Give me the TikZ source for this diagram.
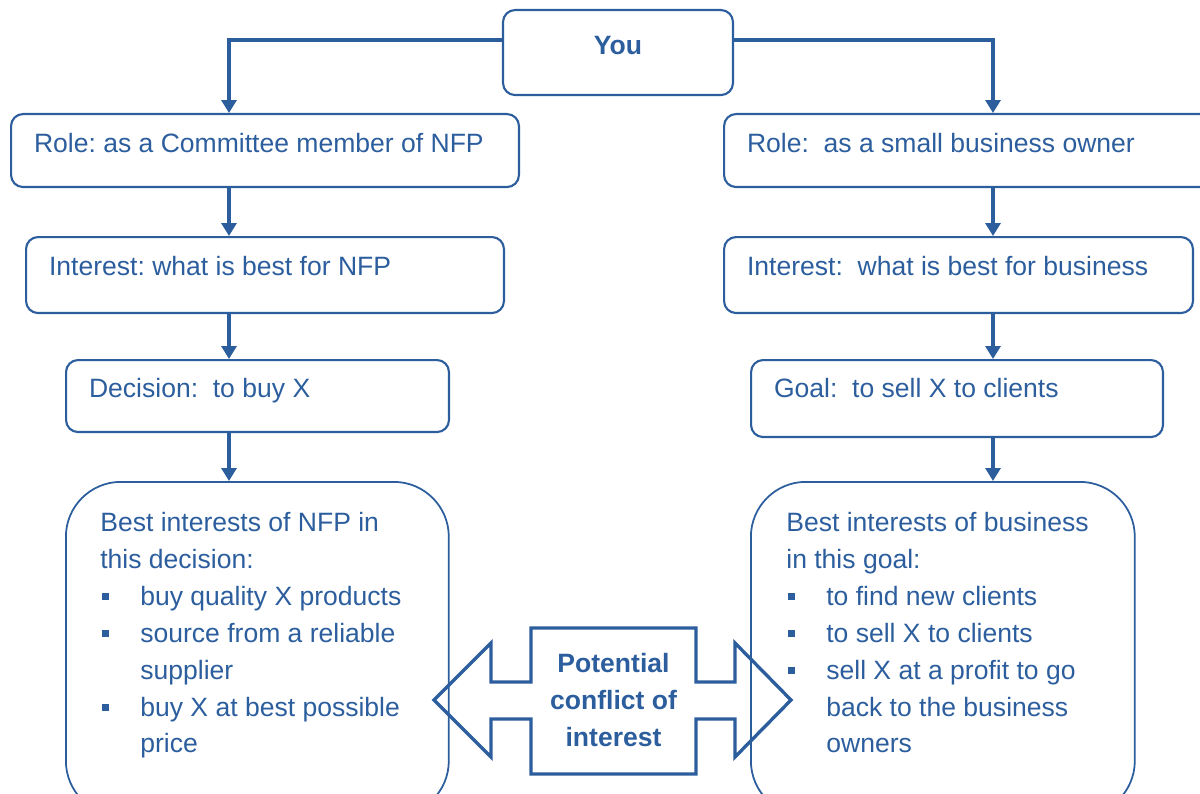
\documentclass[tikz,border=0pt]{standalone}
\usepackage{fontspec}
\setmainfont{Liberation Sans}
\usetikzlibrary{arrows.meta}
\definecolor{nfpblue}{RGB}{44,94,158}
\newcommand{\sqbullet}{\makebox[0.8cm][l]{\hspace{0.04cm}\raisebox{0.11cm}{\rule{0.14cm}{0.14cm}}}}
\newcommand{\boxfont}{\fontsize{15.1}{21}\selectfont\frenchspacing}

\begin{document}
\begin{tikzpicture}[x=0.02cm,y=-0.02cm,>={Triangle[width=0.3cm,length=0.26cm]},
  box/.style={draw=nfpblue, line width=1.2pt, rounded corners=0.24cm, anchor=north west,
    inner xsep=0.46cm, inner ysep=0pt, align=left, text=nfpblue, font=\boxfont,
    execute at begin node={\spaceskip=0pt\xspaceskip=0pt}},
  bigbox/.style={draw=nfpblue, line width=1pt, rounded corners=1.1cm, anchor=north west,
    minimum height=6.68cm},
  bodytext/.style={anchor=north west, inner sep=0pt, align=left, text=nfpblue,
    font=\boxfont},
  link/.style={->, draw=nfpblue, line width=1.8pt},
  conflictline/.style={draw=nfpblue, line width=1.9pt, line join=miter}]

  \clip (0,0) rectangle (1200,794);

% define the boxes
  \node[box, anchor=north, align=center, minimum width=4.6cm, text height=0.89cm,
    text depth=0.81cm, font=\boxfont\bfseries] (you) at (618,9) {You};

  \node[box, text width=9.24cm, text height=0.77cm, text depth=0.69cm] (role1) at (10,113)
    {\mbox{Role: as a Committee member of NFP}};
  \node[box, text width=8.88cm, text height=0.77cm, text depth=0.69cm] (role2) at (723,113)
    {\mbox{Role:\ \ as a small business owner}};

  \node[box, text width=8.64cm, text height=0.77cm, text depth=0.75cm] (int1) at (25,236)
    {\mbox{Interest: what is best for NFP}};
  \node[box, text width=8.46cm, text height=0.77cm, text depth=0.75cm] (int2) at (723,236)
    {\mbox{Interest:\ \ what is best for business}};

  \node[box, text width=6.74cm, text height=0.75cm, text depth=0.69cm] (dec1) at (65,359)
    {\mbox{Decision:\ \ to buy X}};
  \node[box, text width=7.32cm, text height=0.75cm, text depth=0.79cm] (goal2) at (750,359)
    {\mbox{Goal:\ \ to sell X to clients}};

  \node[bigbox, minimum width=7.66cm] (best1) at (65,481) {};
  \node[bigbox, minimum width=7.68cm] (best2) at (750,481) {};

  \node[bodytext] (best1txt) at (100,512)
    {Best interests of NFP in\\
     this decision:\\
     \sqbullet buy quality X products\\
     \sqbullet source from a reliable\\
     \hspace*{0.8cm}supplier\\
     \sqbullet buy X at best possible\\
     \hspace*{0.8cm}price};
  \node[bodytext] (best2txt) at (786,512)
    {Best interests of business\\
     in this goal:\\
     \sqbullet to find new clients\\
     \sqbullet to sell X to clients\\
     \sqbullet sell X at a profit to go\\
     \hspace*{0.8cm}back to the business\\
     \hspace*{0.8cm}owners};

% the double arrow in the middle
  \draw[conflictline] (434,700) -- (491,643) -- (491,682) -- (531,682) -- (531,628)
    -- (696,628) -- (696,682) -- (735,682) -- (735,643) -- (791,700) -- (735,757)
    -- (735,719) -- (696,719) -- (696,774) -- (531,774) -- (531,719) -- (491,719)
    -- (491,757) -- cycle;
  \node[align=center, text=nfpblue, font=\boxfont\bfseries]
    (conflict) at (613.5,700) {Potential\\conflict of\\interest};

% define the links
  \coordinate (lcol) at (229,0);
  \coordinate (rcol) at (993,0);
  \draw[link] ([yshift=0.25cm]you.west) -| (role1.north -| lcol);
  \draw[link] ([yshift=0.25cm]you.east) -| (role2.north -| rcol);
  \draw[link] (role1.south -| lcol) -- (int1.north -| lcol);
  \draw[link] (int1.south -| lcol) -- (dec1.north -| lcol);
  \draw[link] (dec1.south -| lcol) -- (best1.north -| lcol);
  \draw[link] (role2.south -| rcol) -- (int2.north -| rcol);
  \draw[link] (int2.south -| rcol) -- (goal2.north -| rcol);
  \draw[link] (goal2.south -| rcol) -- (best2.north -| rcol);
\end{tikzpicture}
\end{document}
